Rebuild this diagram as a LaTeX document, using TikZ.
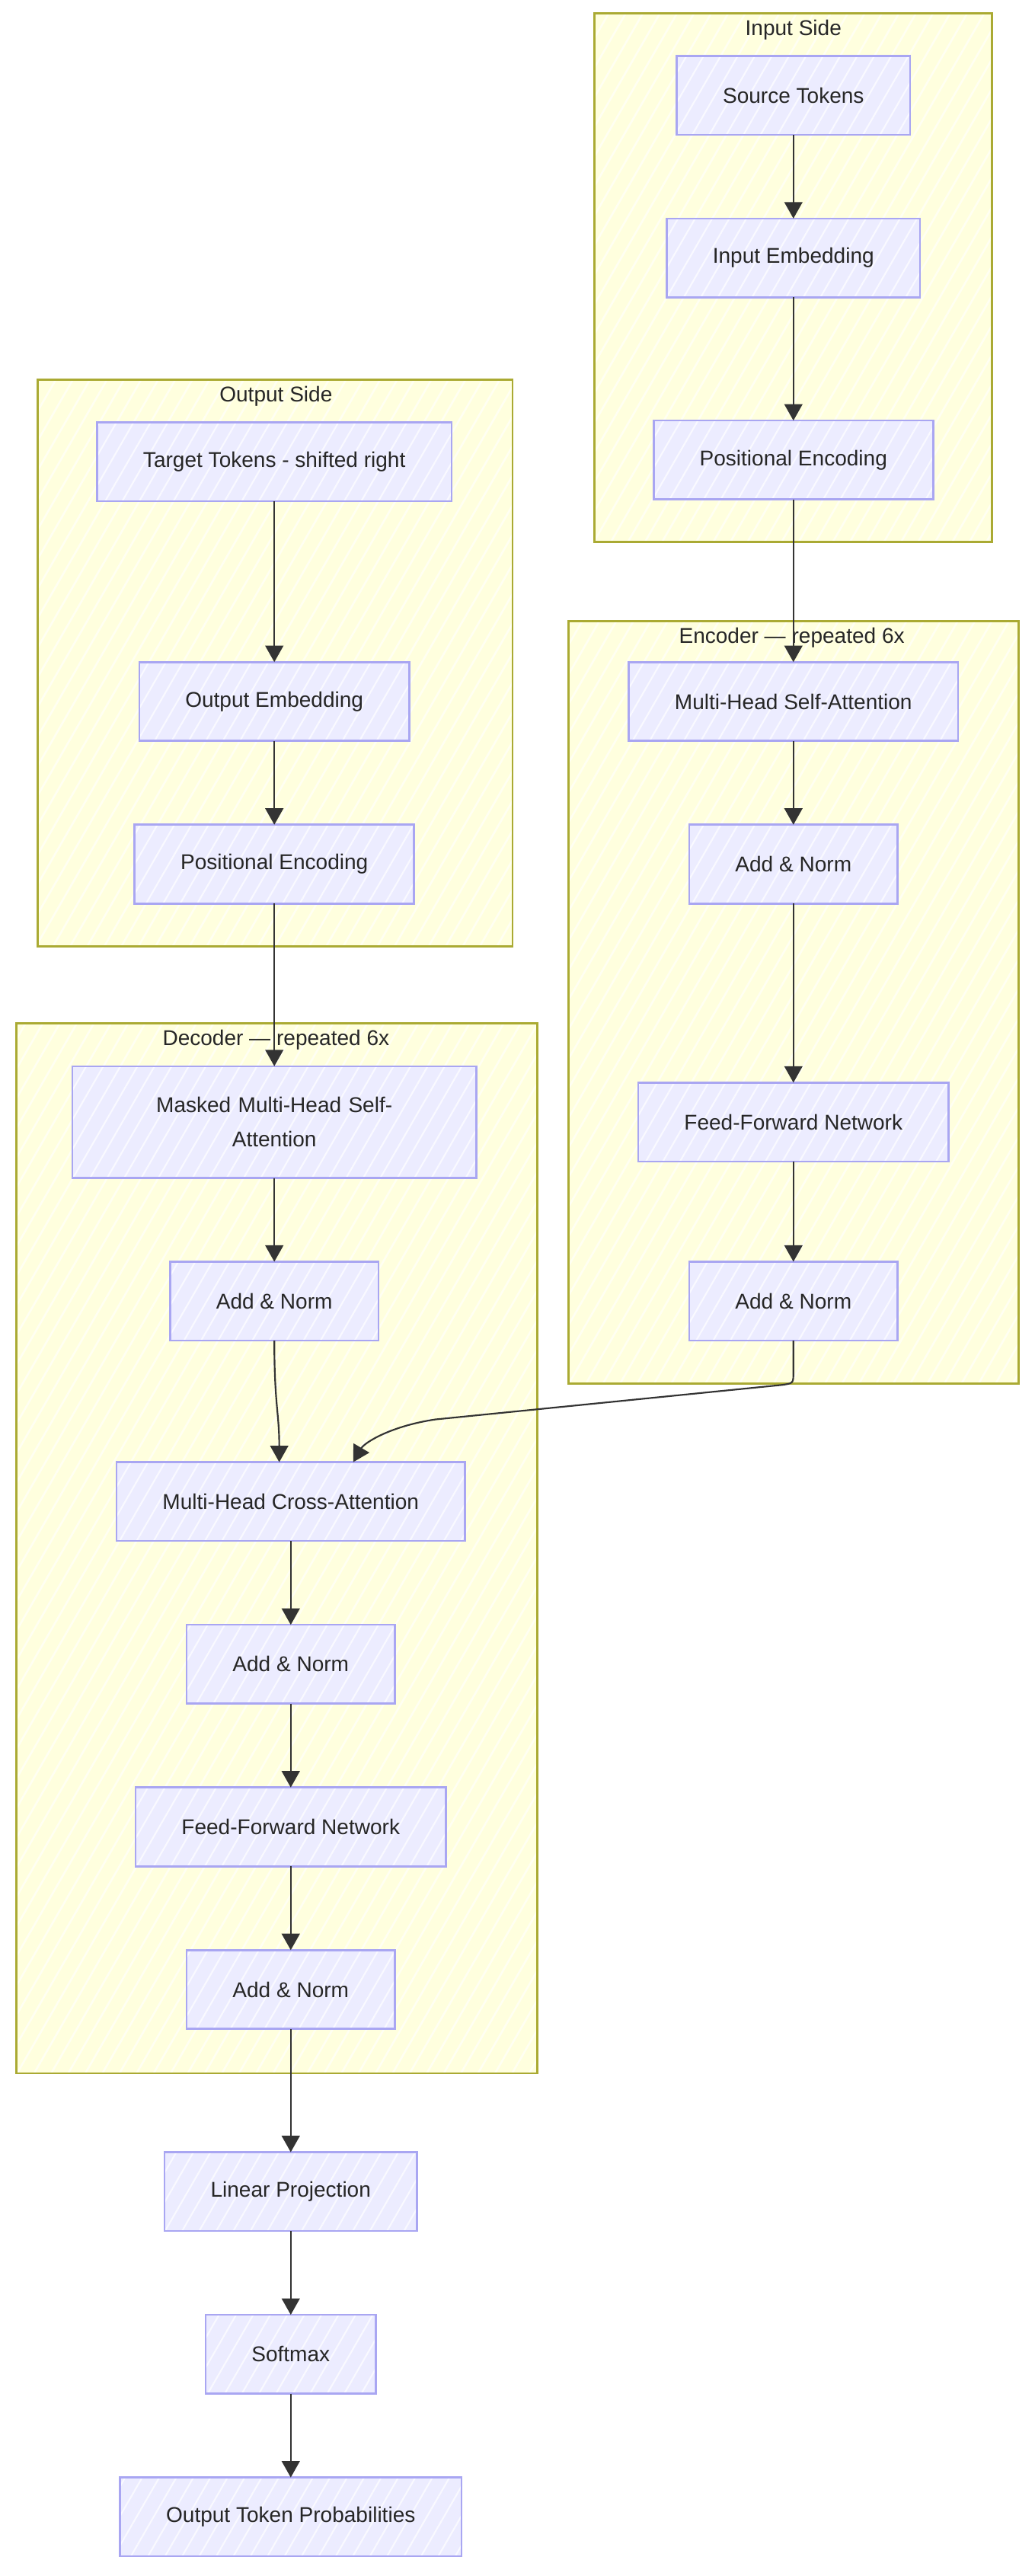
\documentclass[tikz,border=0pt]{standalone}
\usepackage{fontspec}
\setmainfont{Liberation Sans}
\usetikzlibrary{positioning, arrows.meta, patterns.meta}

\definecolor{groupfill}{HTML}{FFFFDE}
\definecolor{groupline}{HTML}{AAAA33}
\definecolor{blockfill}{HTML}{ECECFF}
\definecolor{blockline}{HTML}{A9A6F2}
\definecolor{wire}{HTML}{333333}

\tikzset{
    group/.style={draw=groupline, line width=1.3pt, preaction={fill=groupfill},
        pattern={Lines[angle=60,distance=9pt,line width=1.2pt]}, pattern color=white!60!groupfill},
    grouptitle/.style={text=black!85, font=\fontsize{13pt}{16pt}\selectfont},
    block/.style={draw=blockline, line width=1.2pt, preaction={fill=blockfill},
        pattern={Lines[angle=60,distance=9pt,line width=1pt]}, pattern color=white!70!blockfill,
        minimum height=48pt, inner xsep=28pt, outer sep=0pt, text=black!85,
        font=\fontsize{13pt}{16pt}\selectfont},
    flow/.style={draw=wire, line width=1pt, -{Triangle[length=10pt,width=11pt]}}
}

\begin{document}
\begin{tikzpicture}[x=1pt, y=-1pt]
    \useasboundingbox (0,0) rectangle (630,1568);

    % Groups
    \draw[group] (362,8) rectangle (604,330);
    \node[grouptitle] (inputtitle) at (483,18) {Input Side};
    \draw[group] (346,378) rectangle (620,842);
    \node[grouptitle] (enctitle) at (482,388) {Encoder — repeated 6x};
    \draw[group] (23,231) rectangle (312,576);
    \node[grouptitle] (outputtitle) at (168,241) {Output Side};
    \draw[group] (10,623) rectangle (327,1262);
    \node[grouptitle] (dectitle) at (168,633) {Decoder — repeated 6x};

    % Input side
    \node[block] (srctok) at (483,58) {Source Tokens};
    \node[block, below=51pt of srctok] (inembed) {Input Embedding};
    \node[block, below=75pt of inembed] (inpos) {Positional Encoding};

    % Encoder
    \node[block, below=99pt of inpos] (encattn) {Multi-Head Self-Attention};
    \node[block, below=51pt of encattn] (encnorm1) {Add \& Norm};
    \node[block, below=109pt of encnorm1] (encffn) {Feed-Forward Network};
    \node[block, below=61pt of encffn] (encnorm2) {Add \& Norm};

    % Output side
    \node[block] (tgttok) at (167,281) {Target Tokens - shifted right};
    \node[block, below=98pt of tgttok] (outembed) {Output Embedding};
    \node[block, below=51pt of outembed] (outpos) {Positional Encoding};

    % Decoder
    \node[block, below=99pt of outpos, text width=190pt, align=center, minimum height=68pt,
        font=\fontsize{13pt}{21pt}\selectfont] (decmask) {Masked Multi-Head Self-\\Attention};
    \node[block, below=51pt of decmask] (decnorm1) {Add \& Norm};
    \node[block, below=74pt of decnorm1, xshift=10pt] (crossattn) {Multi-Head Cross-Attention};
    \node[block, below=51pt of crossattn] (decnorm2) {Add \& Norm};
    \node[block, below=51pt of decnorm2] (decffn) {Feed-Forward Network};
    \node[block, below=51pt of decffn] (decnorm3) {Add \& Norm};

    % Output head
    \node[block, below=75pt of decnorm3] (linproj) {Linear Projection};
    \node[block, below=51pt of linproj] (softmax) {Softmax};
    \node[block, below=51pt of softmax] (outprob) {Output Token Probabilities};

    % Connections
    \draw[flow] (srctok) -- (inembed);
    \draw[flow] (inembed) -- (inpos);
    \draw[flow] (inpos) -- (encattn);
    \draw[flow] (encattn) -- (encnorm1);
    \draw[flow] (encnorm1) -- (encffn);
    \draw[flow] (encffn) -- (encnorm2);
    \draw[flow] (tgttok) -- (outembed);
    \draw[flow] (outembed) -- (outpos);
    \draw[flow] (outpos) -- (decmask);
    \draw[flow] (decmask) -- (decnorm1);
    \draw[flow] (decnorm1) .. controls (167,855) and (170,860) .. ([xshift=-7pt]crossattn.north);
    \draw[flow] (encnorm2.south) -- (483,835) .. controls (483,842) .. (476,843)
        -- (265,864) .. controls (238,868) and (222,878) .. ([xshift=38pt]crossattn.north);
    \draw[flow] (crossattn) -- (decnorm2);
    \draw[flow] (decnorm2) -- (decffn);
    \draw[flow] (decffn) -- (decnorm3);
    \draw[flow] (decnorm3) -- (linproj);
    \draw[flow] (linproj) -- (softmax);
    \draw[flow] (softmax) -- (outprob);
\end{tikzpicture}
\end{document}
